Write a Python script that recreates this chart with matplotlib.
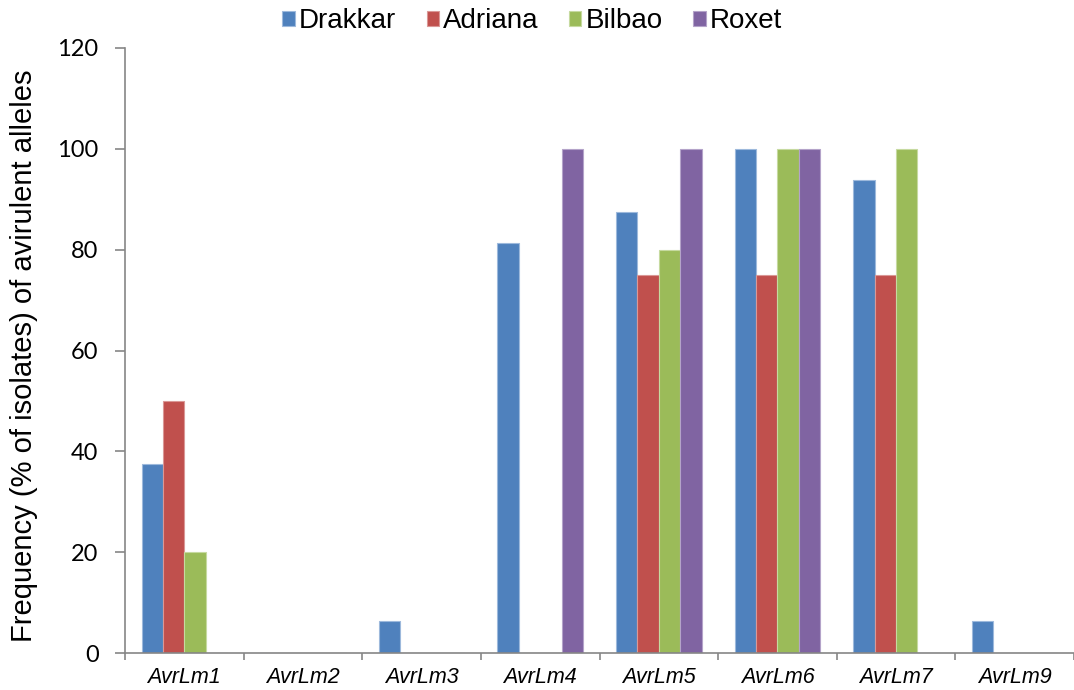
import matplotlib
matplotlib.use("Agg")
import matplotlib.pyplot as plt
import numpy as np
from matplotlib.ticker import FixedLocator

categories = ["AvrLm1", "AvrLm2", "AvrLm3", "AvrLm4", "AvrLm5", "AvrLm6", "AvrLm7", "AvrLm9"]
series_names = ["Drakkar", "Adriana", "Bilbao", "Roxet"]
drakkar = [37.5, 0, 6.25, 81.25, 87.5, 100, 93.75, 6.25]
adriana = [50, 0, 0, 0, 75, 75, 75, 0]
bilbao = [20, 0, 0, 0, 80, 100, 100, 0]
roxet = [0, 0, 0, 100, 100, 100, 0, 0]
y_ticks = [0, 20, 40, 60, 80, 100, 120]

colors = ["#4F81BD", "#C0504D", "#9BBB59", "#8064A2"]
edges = ["#9DB9DC", "#DA9896", "#C6DAA0", "#B4A3C9"]

fig = plt.figure(figsize=(10.74, 6.90), dpi=100)
ax = fig.add_axes([125 / 1074, 37 / 690, 949 / 1074, 605 / 690])

x = np.arange(len(categories))
bar_w = 0.18
for i, (name, vals) in enumerate(zip(series_names, [drakkar, adriana, bilbao, roxet])):
    offs = (i - 1.5) * bar_w
    ax.bar(x + offs, vals, width=bar_w, color=colors[i], edgecolor=edges[i],
           linewidth=0.8, label=name, zorder=2)

ax.set_xlim(-0.5, 7.5)
ax.set_ylim(0, 120)
ax.set_yticks(y_ticks)
ax.set_yticklabels([str(v) for v in y_ticks], fontfamily="Lato", fontsize=17)

ax.set_xticks(x)
ax.set_xticklabels(categories, fontfamily="Liberation Sans", fontstyle="italic", fontsize=15.5)
ax.xaxis.set_minor_locator(FixedLocator(np.arange(-0.5, 8.0, 1.0)))
ax.tick_params(axis="x", which="major", length=0, pad=10)
ax.tick_params(axis="x", which="minor", length=5, width=1.2, color="#868686", direction="out")
ax.tick_params(axis="y", which="major", length=7, width=1.2, color="#868686", direction="out", pad=12)

for side in ["top", "right"]:
    ax.spines[side].set_visible(False)
for side in ["left", "bottom"]:
    ax.spines[side].set_color("#868686")
    ax.spines[side].set_linewidth(1.2)
    ax.spines[side].set_zorder(3)

ax.set_ylabel("Frequency (% of isolates) of avirulent alleles",
              fontfamily="Liberation Sans", fontsize=21)
ax.yaxis.set_label_coords(-0.092, 0.491)

fig.legend(loc="center", bbox_to_anchor=(532 / 1074, 1 - 21 / 690), ncol=4,
           frameon=False, prop={"family": "Liberation Sans", "size": 20},
           handlelength=0.45, handleheight=0.45, handletextpad=0.14,
           columnspacing=1.1, borderpad=0, borderaxespad=0)

fig.savefig("out.png", dpi=100, facecolor="white")
